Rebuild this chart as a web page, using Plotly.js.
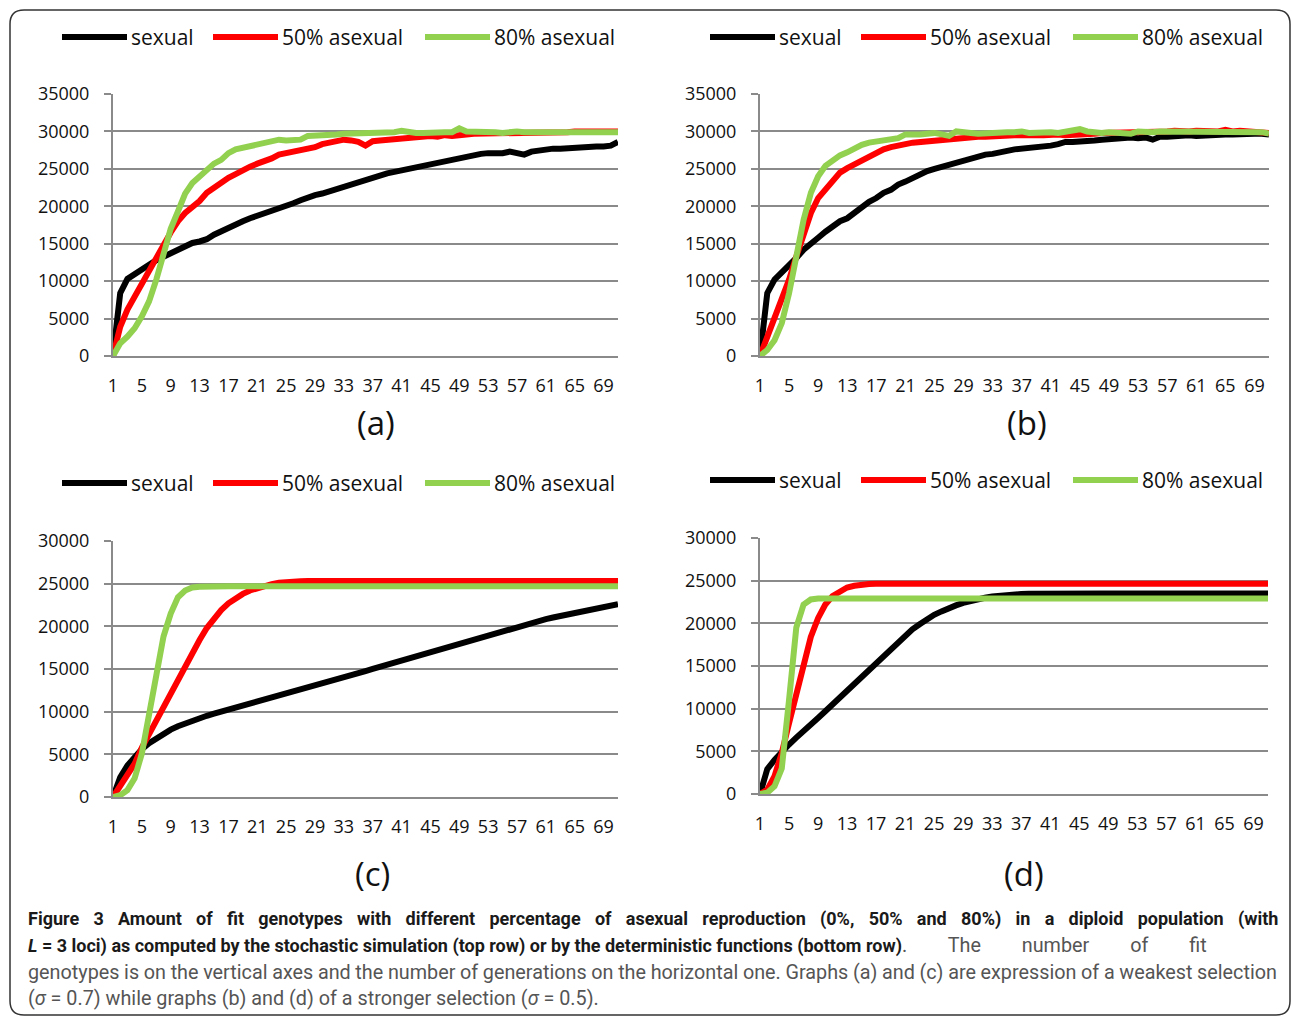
<!DOCTYPE html>
<html><head><meta charset="utf-8">
<script src="https://cdn.plot.ly/plotly-3.0.1.min.js"></script>
<style>html,body{margin:0;padding:0;background:#fff}#chart{width:1292px;height:1018px}</style>
</head><body><div id="chart"></div>
<script>
// ---------------- DATA ----------------
const generations = [1,2,3,4,5,6,7,8,9,10,11,12,13,14,15,16,17,18,19,20,21,22,23,24,25,26,27,28,29,30,31,32,33,34,35,36,37,38,39,40,41,42,43,44,45,46,47,48,49,50,51,52,53,54,55,56,57,58,59,60,61,62,63,64,65,66,67,68,69,70,71];
const xTickVals = [1,5,9,13,17,21,25,29,33,37,41,45,49,53,57,61,65,69];
const seriesNames = ['sexual','50% asexual','80% asexual'];
const panelLabels = ['(a)','(b)','(c)','(d)'];

// (a) stochastic, sigma = 0.7
const aSexual = [0,8400,10300,11000,11600,12200,12800,13300,13800,14300,14700,15100,15300,15600,16200,16700,17200,17600,18000,18400,18700,19200,19500,19800,20000,20400,20800,21200,21500,21700,22000,22400,22700,23000,23300,23500,23900,24300,24400,24600,24800,25100,25300,25500,25700,25900,26000,26200,26400,26700,26900,27000,27100,27000,27100,27300,27200,26900,27300,27500,27600,27700,27700,27800,27800,27900,28000,28000,28000,28100,28600];
const aAsex50 = [0,3900,6200,8000,9700,11300,13100,14800,16500,18000,19100,19800,20700,21800,22500,23100,23800,24300,24900,25300,25700,26000,26400,26900,27100,27500,27700,27700,27900,28300,28500,28700,28900,28800,28600,28100,28700,28800,28900,29100,29100,29200,29300,29300,29400,29300,29500,29400,29600,29600,29700,29700,29800,29700,29800,29800,29800,29700,29800,29900,29800,29900,29900,29900,30000,29900,30000,30000,30000,30000,30000];
const aAsex80 = [0,1700,2600,3700,5300,7300,10200,14000,17000,19300,21700,23100,24000,24900,25700,26200,27100,27600,27800,28000,28200,28500,28700,28900,28800,28800,28900,29400,29400,29400,29500,29600,29700,29700,29700,29700,29800,29800,29800,29900,30100,29900,29800,29800,29900,29800,29900,29900,30400,30000,30000,30000,30100,29900,29800,30000,30000,29900,29900,29900,29900,30000,30100,30000,30100,30000,30000,30000,30000,30000,29900];

// (b) stochastic, sigma = 0.5
const bSexual = [0,8400,10200,11100,12000,13100,14200,15100,15800,16600,17300,18000,18400,19100,20000,20600,21100,21800,22200,22900,23300,23800,24200,24700,25000,25300,25600,25900,26200,26500,26700,26900,27000,27300,27400,27600,27700,27900,27800,28000,28100,28300,28600,28600,28600,28700,28800,28900,29000,29000,29100,29200,29100,29200,28900,29300,29300,29400,29400,29500,29400,29500,29600,29500,29600,29600,29700,29600,29700,29700,29600];
const bAsex50 = [0,2600,5000,7500,10200,13300,16400,19100,21100,22200,23600,24500,25100,25600,26000,26700,27100,27600,27900,28000,28300,28500,28600,28700,28800,28900,28900,29000,29300,29200,29300,29300,29400,29400,29400,29500,29500,29400,29500,29500,29600,29600,29500,29600,29700,29800,29700,29800,29800,29900,29800,29900,29900,30000,29900,30000,30000,30100,30000,30000,30100,30000,30100,30000,30200,30000,30100,30000,30000,29900,29800];
const bAsex80 = [0,800,2100,4400,8400,13300,18200,21800,24000,25400,26200,26800,27200,27800,28200,28500,28700,28800,28900,29100,29600,29500,29600,29700,29800,29600,29400,30000,29800,29800,29700,29800,29900,29800,29900,29900,30000,29800,29900,29900,29900,29800,29900,30100,30300,30000,29800,29800,29900,29800,29900,29700,30000,29900,29900,30000,30000,30100,29900,30000,30000,29900,30000,30000,29900,30100,30100,30000,29900,29900,29700];

// (c) deterministic, sigma = 0.7
const cSexual = [0,2300,3700,4700,5600,6300,6900,7450,7900,8300,8650,8950,9250,9520,9770,10000,10230,10460,10690,10920,11150,11380,11610,11840,12080,12320,12560,12800,13040,13280,13520,13760,14010,14260,14510,14760,15010,15260,15510,15760,16010,16260,16510,16760,17010,17260,17510,17760,18010,18260,18510,18760,19010,19260,19500,19740,19980,20210,20430,20640,20840,21030,21210,21380,21600,21800,22000,22150,22300,22450,22600];
const cAsex50 = [0,1200,2400,3900,5800,7400,9000,10600,12300,13900,15500,17000,18400,19800,20900,21900,22700,23300,23800,24200,24500,24750,24950,25100,25200,25250,25280,25300,25300,25300,25300,25300,25300,25300,25300,25300,25300,25300,25300,25300,25300,25300,25300,25300,25300,25300,25300,25300,25300,25300,25300,25300,25300,25300,25300,25300,25300,25300,25300,25300,25300,25300,25300,25300,25300,25300,25300,25300,25300,25300,25300];
const cAsex80 = [0,200,800,2200,5100,9400,14500,18800,21500,23400,24200,24550,24650,24700,24700,24700,24700,24700,24700,24700,24700,24700,24700,24700,24700,24700,24700,24700,24700,24700,24700,24700,24700,24700,24700,24700,24700,24700,24700,24700,24700,24700,24700,24700,24700,24700,24700,24700,24700,24700,24700,24700,24700,24700,24700,24700,24700,24700,24700,24700,24700,24700,24700,24700,24700,24700,24700,24700,24700,24700,24700];

// (d) deterministic, sigma = 0.5
const dSexual = [0,2900,4000,5000,5800,6600,7300,8100,8900,9700,10500,11300,12100,12900,13700,14500,15300,16200,17000,17800,18600,19300,19900,20500,21000,21400,21800,22100,22400,22650,22850,23000,23150,23250,23330,23400,23440,23470,23490,23500,23500,23500,23500,23500,23500,23500,23500,23500,23500,23500,23500,23500,23500,23500,23500,23500,23500,23500,23500,23500,23500,23500,23500,23500,23500,23500,23500,23500,23500,23500,23500];
const dAsex50 = [0,500,2100,4800,8300,11800,15300,18400,20600,22200,23200,23800,24200,24400,24550,24620,24650,24650,24650,24650,24650,24650,24650,24650,24650,24650,24650,24650,24650,24650,24650,24650,24650,24650,24650,24650,24650,24650,24650,24650,24650,24650,24650,24650,24650,24650,24650,24650,24650,24650,24650,24650,24650,24650,24650,24650,24650,24650,24650,24650,24650,24650,24650,24650,24650,24650,24650,24650,24650,24650,24650];
const dAsex80 = [0,150,900,3000,11000,19500,22200,22800,22900,22900,22900,22900,22900,22900,22900,22900,22900,22900,22900,22900,22900,22900,22900,22900,22900,22900,22900,22900,22900,22900,22900,22900,22900,22900,22900,22900,22900,22900,22900,22900,22900,22900,22900,22900,22900,22900,22900,22900,22900,22900,22900,22900,22900,22900,22900,22900,22900,22900,22900,22900,22900,22900,22900,22900,22900,22900,22900,22900,22900,22900,22900];

// ---------------- STYLE / LAYOUT ----------------
const W = 1292, H = 1018;
const px = x => x / W, py = y => 1 - y / H;
const COLORS = ['#000000', '#ff0000', '#92d050'];
const GRID = '#8a8a8a';
const FONT = 'Open Sans, sans-serif';
const CAPFONT = 'Roboto, sans-serif';

const panels = [
  {series:[aSexual,aAsex50,aAsex80], xl:113, xr:618, yTop:94,  yBot:356, ymax:35000, legendY:37,  labelX:376,  labelY:423},
  {series:[bSexual,bAsex50,bAsex80], xl:760, xr:1269, yTop:94, yBot:356, ymax:35000, legendY:37,  labelX:1027, labelY:423},
  {series:[cSexual,cAsex50,cAsex80], xl:113, xr:618, yTop:541, yBot:797, ymax:30000, legendY:483, labelX:372,  labelY:873},
  {series:[dSexual,dAsex50,dAsex80], xl:760, xr:1268, yTop:538, yBot:794, ymax:30000, legendY:480, labelX:1024, labelY:873}
];
const legendOffsets = [ // [sampleStart, sampleEnd, textStart] relative to panel's legend origin
  [0, 65, 67], [151, 216, 218], [363, 428, 430]
];
const legendOrigin = [62, 710, 62, 710];

const traces = [];
const layout = {
  width: W, height: H,
  margin: {l:0, r:0, t:0, b:0},
  paper_bgcolor: '#ffffff', plot_bgcolor: '#ffffff',
  showlegend: false,
  shapes: [], annotations: []
};

panels.forEach((p, i) => {
  const n = i + 1;
  const xk = n === 1 ? 'x' : 'x' + n, yk = n === 1 ? 'y' : 'y' + n;
  const xa = n === 1 ? 'xaxis' : 'xaxis' + n, ya = n === 1 ? 'yaxis' : 'yaxis' + n;
  p.series.forEach((vals, s) => {
    traces.push({
      type: 'scatter', mode: 'lines', x: generations, y: vals,
      name: seriesNames[s], xaxis: xk, yaxis: yk,
      line: {color: COLORS[s], width: 6}, hoverinfo: 'skip'
    });
  });
  layout[xa] = {
    domain: [px(p.xl), px(p.xr)], range: [1, 71], anchor: yk,
    tickmode: 'array', tickvals: xTickVals, ticktext: xTickVals.map(String),
    showgrid: false, zeroline: false, showline: true, linecolor: GRID, linewidth: 2,
    ticks: '', ticklabelstandoff: 12,
    tickfont: {family: FONT, size: 18, color: '#111'}, fixedrange: true
  };
  layout[ya] = {
    domain: [py(p.yBot), py(p.yTop)], range: [0, p.ymax], anchor: xk,
    tickmode: 'linear', tick0: 0, dtick: 5000, tickformat: 'd',
    showgrid: true, gridcolor: GRID, gridwidth: 2, zeroline: false,
    showline: true, linecolor: GRID, linewidth: 2,
    ticks: 'outside', ticklen: 7, tickwidth: 2, tickcolor: GRID, ticklabelstandoff: 11,
    tickfont: {family: FONT, size: 18, color: '#111'}, fixedrange: true
  };
  // legend (drawn per panel)
  legendOffsets.forEach((o, s) => {
    const x0 = legendOrigin[i] + o[0];
    layout.shapes.push({type:'line', xref:'paper', yref:'paper',
      x0: px(x0), x1: px(legendOrigin[i] + o[1]), y0: py(p.legendY), y1: py(p.legendY),
      line: {color: COLORS[s], width: 6}});
    layout.annotations.push({xref:'paper', yref:'paper', x: px(legendOrigin[i] + o[2]), y: py(p.legendY),
      xanchor:'left', yanchor:'middle', showarrow:false, text: seriesNames[s],
      font: {family: FONT, size: 21, color: '#111'}});
  });
  layout.annotations.push({xref:'paper', yref:'paper', x: px(p.labelX), y: py(p.labelY),
    xanchor:'center', yanchor:'middle', showarrow:false, text: panelLabels[i],
    font: {family: FONT, size: 33, color: '#111'}});
});

// caption (justified lines emulated with word spacing)
const GREY = '#555555';
const captionLines = [
  "<span style='word-spacing:9.8px'><b>Figure 3 Amount of fit genotypes with different percentage of asexual reproduction (0%, 50% and 80%) in a diploid population (with</b></span>",
  "<b><i>L</i> = 3 loci) as computed by the stochastic simulation (top row) or by the deterministic functions (bottom row)</b><span style='color:" + GREY + ";font-size:19.8px;word-spacing:36px'>. The number of fit</span>",
  "<span style='color:" + GREY + ";font-size:19.8px;word-spacing:-0.25px'>genotypes is on the vertical axes and the number of generations on the horizontal one. Graphs (a) and (c) are expression of a weakest selection</span>",
  "<span style='color:" + GREY + ";font-size:19.8px'>(<i>σ</i> = 0.7) while graphs (b) and (d) of a stronger selection (<i>σ</i> = 0.5).</span>"
];
const captionY = [919, 945, 972, 998];
captionLines.forEach((t, k) => {
  layout.annotations.push({xref:'paper', yref:'paper', x: px(26), y: py(captionY[k]),
    xanchor:'left', yanchor:'middle', showarrow:false, text: t, align:'left',
    font: {family: CAPFONT, size: 18, color: '#1a1a1a'}});
});

// rounded frame
(function(){
  const L = 10, T = 10, R = 1290, B = 1015, r = 14;
  const P = (x, y) => px(x).toFixed(5) + ',' + py(y).toFixed(5);
  const path = 'M' + P(L + r, T) + ' L' + P(R - r, T) + ' Q' + P(R, T) + ' ' + P(R, T + r) +
    ' L' + P(R, B - r) + ' Q' + P(R, B) + ' ' + P(R - r, B) + ' L' + P(L + r, B) +
    ' Q' + P(L, B) + ' ' + P(L, B - r) + ' L' + P(L, T + r) + ' Q' + P(L, T) + ' ' + P(L + r, T) + ' Z';
  layout.shapes.push({type:'path', xref:'paper', yref:'paper', path: path,
    line: {color: '#333333', width: 1.5}, fillcolor: 'rgba(0,0,0,0)', layer: 'below'});
})();

Plotly.newPlot('chart', traces, layout, {staticPlot: true, displayModeBar: false});
</script>
</body></html>
